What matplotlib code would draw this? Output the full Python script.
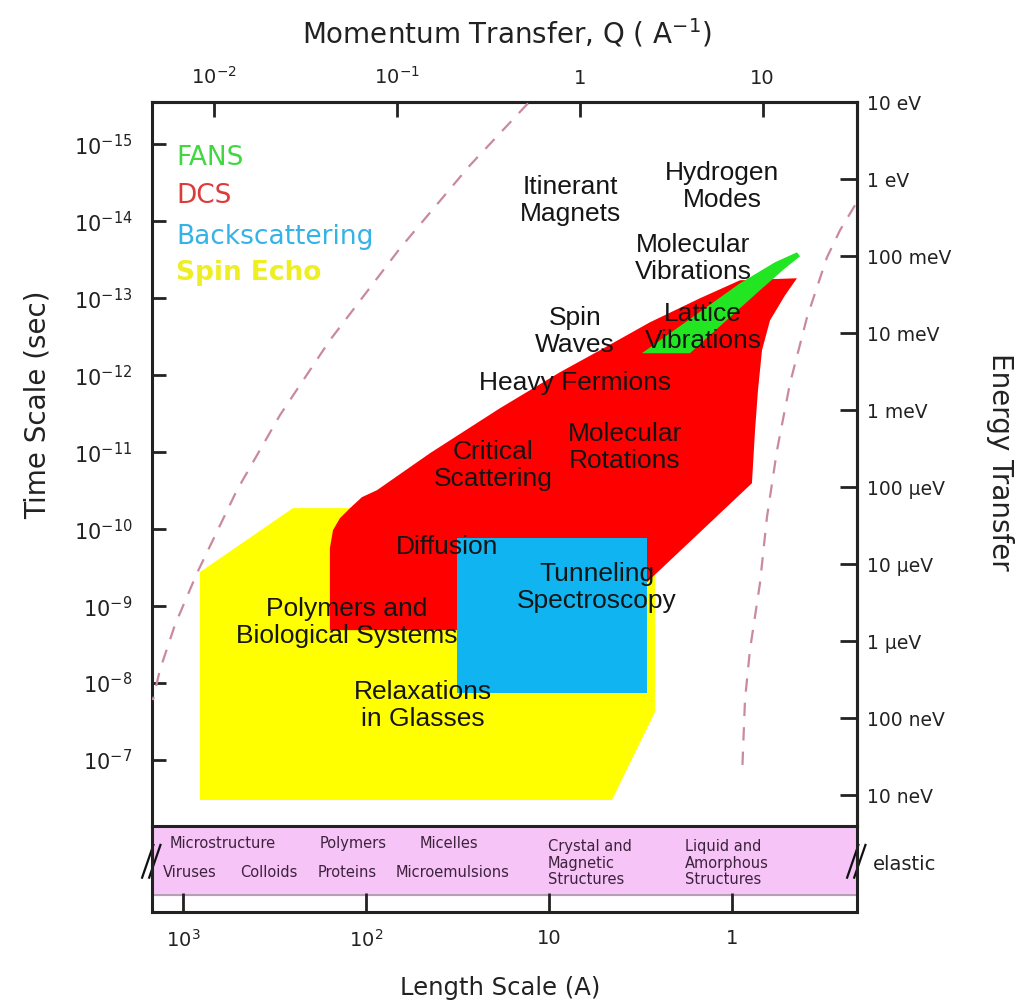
import numpy as np
import matplotlib.pyplot as plt
from matplotlib.ticker import NullLocator
from matplotlib import font_manager as fm

# ---- data (log10 of length in A, log10 of time in s) ----
spin_echo_logL = [2.907, 2.399, 1.268, 0.421, 0.421, 0.656, 2.907]
spin_echo_logt = [-9.442, -10.273, -10.273, -9.597, -7.623, -6.481, -6.481]

dcs_logL = [1.940, 1.650, 1.268, 0.940, 0.721, 0.448, 0.175, -0.044, -0.355,
            -0.290, -0.208, -0.164, -0.142, -0.126, -0.109, 0.464, 0.503,
            2.197, 2.197, 2.180, 2.142, 2.087, 2.022]
dcs_logt = [-10.506, -10.987, -11.571, -12.039, -12.325, -12.688, -13.0, -13.234, -13.260,
            -13.039, -12.714, -12.325, -11.805, -11.286, -10.597, -9.312, -8.688,
            -8.688, -9.753, -9.987, -10.143, -10.273, -10.416]

backscat_logL = [1.503, 0.464]
backscat_logt = [-9.883, -7.870]

fans_logL = [0.492, 0.230, -0.153, -0.290, -0.372, -0.355, -0.235, -0.044]
fans_logt = [-12.286, -12.286, -13.104, -13.390, -13.545, -13.597, -13.468, -13.195]

left_limit_logL = [1.115, 1.432, 1.814, 2.197, 2.470, 2.705, 2.923, 3.044, 3.126, 3.164]
left_limit_logt = [-15.532, -14.727, -13.649, -12.455, -11.481, -10.506, -9.429, -8.753, -8.169, -7.779]
right_limit_logL = [-0.672, -0.590, -0.519, -0.410, -0.317, -0.246, -0.191, -0.153, -0.098, -0.071, -0.055]
right_limit_logt = [-14.208, -13.883, -13.532, -12.753, -11.896, -11.026, -10.156, -9.299, -8.429, -7.779, -6.805]

region_names = ['Itinerant\nMagnets', 'Hydrogen\nModes', 'Molecular\nVibrations',
                'Lattice\nVibrations', 'Spin\nWaves', 'Heavy Fermions',
                'Critical\nScattering', 'Molecular\nRotations', 'Diffusion',
                'Tunneling\nSpectroscopy', 'Polymers and\nBiological Systems',
                'Relaxations\nin Glasses']
region_logL = [0.885, 0.055, 0.213, 0.158, 0.858, 0.858, 1.306, 0.585, 1.557, 0.738, 2.104, 1.689]
region_logt = [-14.273, -14.455, -13.519, -12.623, -12.571, -11.896, -10.831, -11.065,
               -9.766, -9.247, -8.792, -7.714]

legend_names = ['FANS', 'DCS', 'Backscattering', 'Spin Echo']
legend_colors = ['#3fd83f', '#dd3b3b', '#35b2e6', '#eeee22']

time_exp = list(range(-15, -6))
q_ticks = [0.01, 0.1, 1, 10]
q_labels = ['$10^{-2}$', '$10^{-1}$', '1', '10']
length_ticks = [1000, 100, 10, 1]
length_labels = ['$10^3$', '$10^2$', '10', '1']
energy_ticks = [10, 1, 0.1, 1e-2, 1e-3, 1e-4, 1e-5, 1e-6, 1e-7, 1e-8]
energy_labels = ['10 eV', '1 eV', '100 meV', '10 meV', '1 meV', '100 \u00b5eV',
                 '10 \u00b5eV', '1 \u00b5eV', '100 neV', '10 neV']

strip_names = ['Microstructure', 'Polymers', 'Micelles', 'Viruses', 'Colloids',
               'Proteins', 'Microemulsions', 'Crystal and\nMagnetic\nStructures',
               'Liquid and\nAmorphous\nStructures']
strip_logL = [3.071, 2.251, 1.705, 3.109, 2.689, 2.262, 1.836, 1.005, 0.257]
strip_y = [0.80, 0.80, 0.80, 0.465, 0.465, 0.465, 0.465, 0.57, 0.57]

names = {f.name for f in fm.fontManager.ttflist}
narrow = 'Liberation Sans Narrow' if 'Liberation Sans Narrow' in names else 'DejaVu Sans'

fig = plt.figure(figsize=(10.16, 10.05), dpi=100)
ax2 = fig.add_axes([0.1496, 0.0925, 0.6939, 0.0856])
ax = fig.add_axes([0.1496, 0.1781, 0.6939, 0.7204])
ax.set_zorder(3)

xlim = (10**3.169, 10**-0.683)
ax.set_xscale('log')
ax.set_yscale('log')
ax.set_xlim(*xlim)
ax.set_ylim(10**-6.143, 10**-15.55)

p = lambda v: 10.0**np.array(v)

ax.fill(p(spin_echo_logL), p(spin_echo_logt), color='#ffff00', lw=0, zorder=1)
ax.fill(p(dcs_logL), p(dcs_logt), color='#ff0000', lw=0, zorder=2)
bL, bt = p(backscat_logL), p(backscat_logt)
ax.fill([bL[0], bL[1], bL[1], bL[0]], [bt[0], bt[0], bt[1], bt[1]], color='#0fb4f0', lw=0, zorder=3)
ax.fill(p(fans_logL), p(fans_logt), color='#22e622', lw=0, zorder=4)

for xs, ys in [(left_limit_logL, left_limit_logt), (right_limit_logL, right_limit_logt)]:
    ax.plot(p(xs), p(ys), color='#c98a9c', lw=1.6, dashes=(6, 5), zorder=5)

for s, lx, ly in zip(region_names, region_logL, region_logt):
    ax.text(10**lx, 10**ly, s, ha='center', va='center', fontsize=19,
            family='Liberation Sans', color='#151515', linespacing=1.15, zorder=6)

for i, (s, c) in enumerate(zip(legend_names, legend_colors)):
    ax.text(0.034, [0.923, 0.870, 0.814, 0.764][i], s, color=c, fontsize=19,
            ha='left', va='center', transform=ax.transAxes,
            fontweight='bold' if s == 'Spin Echo' else 'normal')

for sp in ax.spines.values():
    sp.set_linewidth(2.2)
    sp.set_color('#222222')

ax.set_yticks(p(time_exp), labels=[f'$10^{{{e}}}$' for e in time_exp])
ax.yaxis.set_minor_locator(NullLocator())
ax.xaxis.set_minor_locator(NullLocator())
ax.tick_params(axis='y', direction='in', length=10, width=2, pad=14, labelsize=15,
               left=True, right=False, colors='#222222')
ax.tick_params(axis='x', bottom=False, top=False, labelbottom=False)

secx = ax.secondary_xaxis('top', functions=(lambda L: 6.8 / L, lambda Q: 6.8 / Q))
secx.set_xticks(q_ticks, labels=q_labels)
secx.xaxis.set_minor_locator(NullLocator())
secx.tick_params(direction='in', length=11, width=2, pad=10, labelsize=14, colors='#222222')
secx.spines['top'].set_linewidth(2.2)

secy = ax.secondary_yaxis('right', functions=(lambda t: 2.85e-15 / t, lambda E: 2.85e-15 / E))
secy.set_yticks(energy_ticks, labels=energy_labels)
secy.yaxis.set_minor_locator(NullLocator())
secy.tick_params(direction='in', length=12, width=2, pad=7, labelsize=13.5, colors='#222222')
secy.spines['right'].set_linewidth(2.2)

# elastic strip
ax2.set_xscale('log')
ax2.set_xlim(*xlim)
ax2.set_ylim(0, 1)
ax2.axhspan(0.2, 0.975, color='#f6c4f6', zorder=0)
ax2.axhline(0.2, color='#a898a8', lw=1.2, zorder=1)
ax2.spines['top'].set_visible(False)
for k in ['left', 'right', 'bottom']:
    ax2.spines[k].set_linewidth(2.2)
    ax2.spines[k].set_color('#222222')
ax2.set_yticks([])
ax2.set_xticks(length_ticks, labels=length_labels)
ax2.xaxis.set_minor_locator(NullLocator())
ax2.tick_params(axis='x', direction='in', length=14, width=2, pad=12, labelsize=14, colors='#222222')

for s, lx, yy in zip(strip_names, strip_logL, strip_y):
    ax2.text(10**lx, yy, s, ha='left', va='center', fontsize=10.5, family=narrow,
             color='#3c223c', linespacing=1.15)

for x0 in (0.0, 1.0):
    for dx in (-0.006, 0.004):
        ax2.plot([x0 + dx - 0.008, x0 + dx + 0.008], [0.40, 0.78], color='#111111',
                 lw=1.6, transform=ax2.transAxes, clip_on=False)

fig.text(873 / 1016, 1 - 865 / 1005, 'elastic', fontsize=14, ha='left', va='center', color='#222222')
fig.text(507 / 1016, 1 - 33 / 1005, 'Momentum Transfer, Q ( A$^{-1}$)', fontsize=20,
         ha='center', va='center', color='#222222')
fig.text(500 / 1016, 1 - 988 / 1005, 'Length Scale (A)', fontsize=17.5,
         ha='center', va='center', color='#222222')
fig.text(38 / 1016, 1 - 405 / 1005, 'Time Scale (sec)', fontsize=20, rotation=90,
         ha='center', va='center', color='#222222')
fig.text(1000 / 1016, 1 - 462 / 1005, 'Energy Transfer', fontsize=20, rotation=-90,
         ha='center', va='center', color='#222222')

fig.savefig('out.png', dpi=100)
